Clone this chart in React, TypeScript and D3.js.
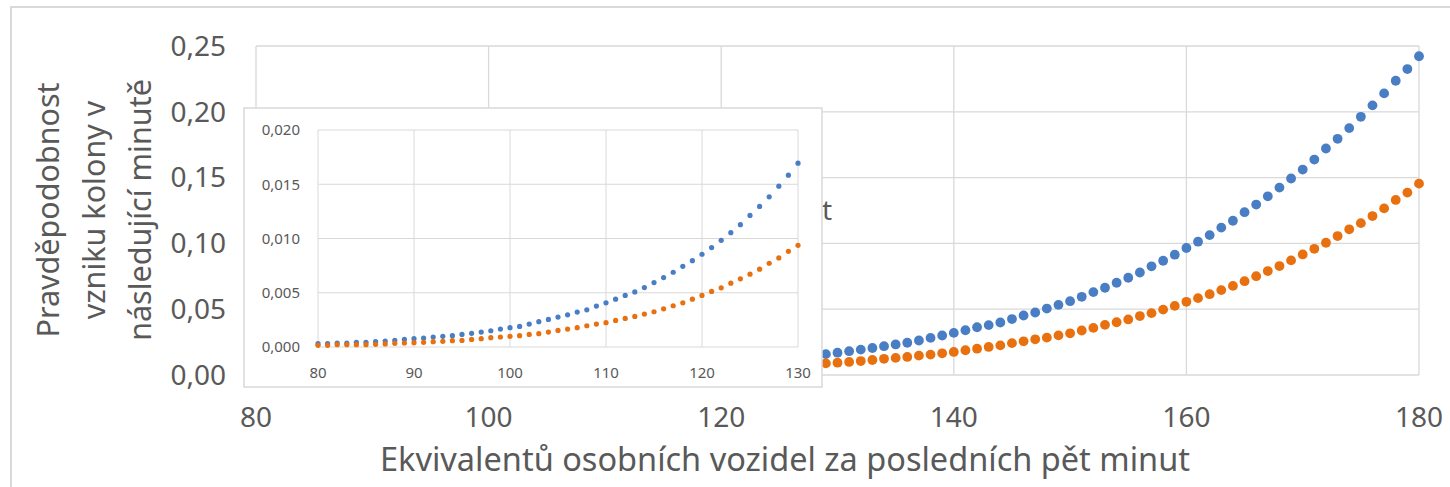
import React from "react";
import * as d3 from "d3";

const xStart = 80;
const blueValues = [
  0.00031, 0.00031, 0.00037, 0.00037, 0.00043, 0.00043, 0.00049, 0.00055, 0.00061, 0.0007,
  0.00077, 0.00083, 0.00092, 0.00098, 0.00104, 0.00116, 0.00126, 0.00138, 0.0015, 0.00165,
  0.00178, 0.0019, 0.00211, 0.00233, 0.00254, 0.00276, 0.00297, 0.00322, 0.00343, 0.00377,
  0.00407, 0.00441, 0.00475, 0.00508, 0.00548, 0.00594, 0.0064, 0.00689, 0.00744, 0.00796,
  0.00855, 0.00916, 0.00983, 0.01054, 0.01127, 0.01213, 0.01296, 0.01384, 0.01482, 0.01584,
  0.01694, 0.0181, 0.0193, 0.0205, 0.0219, 0.0232, 0.0245, 0.0262, 0.0282, 0.03,
  0.032, 0.034, 0.0363, 0.0379, 0.0399, 0.0425, 0.0452, 0.0475, 0.0505, 0.0533,
  0.0561, 0.0594, 0.063, 0.0663, 0.0701, 0.0739, 0.0779, 0.0826, 0.0868, 0.0914,
  0.0965, 0.1013, 0.1063, 0.112, 0.1172, 0.1237, 0.1295, 0.1358, 0.1424, 0.1493,
  0.1561, 0.1637, 0.1721, 0.1795, 0.1876, 0.1962, 0.2049, 0.214, 0.2236, 0.2325,
  0.2422,
];
const orangeValues = [
  0.00015, 0.00015, 0.00021, 0.00021, 0.00021, 0.00021, 0.00025, 0.00028, 0.00034, 0.00037,
  0.0004, 0.00043, 0.00049, 0.00052, 0.00058, 0.00061, 0.0007, 0.00077, 0.00086, 0.00092,
  0.00098, 0.00104, 0.00116, 0.00123, 0.00138, 0.00153, 0.00165, 0.00178, 0.00196, 0.00211,
  0.00224, 0.00245, 0.00263, 0.00282, 0.00303, 0.00325, 0.00352, 0.0038, 0.00407, 0.00441,
  0.00475, 0.00512, 0.00545, 0.00588, 0.00628, 0.00671, 0.00717, 0.00772, 0.00821, 0.00882,
  0.00937, 0.0099, 0.0106, 0.0114, 0.0123, 0.013, 0.0137, 0.0147, 0.0155, 0.0165,
  0.0175, 0.0188, 0.02, 0.0213, 0.0225, 0.0242, 0.0256, 0.0271, 0.0284, 0.0301,
  0.0317, 0.0338, 0.0358, 0.0381, 0.0401, 0.0422, 0.0448, 0.047, 0.0497, 0.0525,
  0.0556, 0.0584, 0.0614, 0.0645, 0.0677, 0.0713, 0.0751, 0.079, 0.0828, 0.0871,
  0.0916, 0.0959, 0.1005, 0.1056, 0.1107, 0.1154, 0.1208, 0.1266, 0.133, 0.1386,
  0.1454,
];
const mainXTicks = [80, 100, 120, 140, 160, 180];
const mainYTicks = [0, 0.05, 0.1, 0.15, 0.2, 0.25];
const insetXTicks = [80, 90, 100, 110, 120, 130];
const insetYTicks = [0, 0.005, 0.01, 0.015, 0.02];
const insetXMax = 130;
const yTitleLines = ["Pravděpodobnost", "vzniku kolony v", "následující minutě"];
const xTitle = "Ekvivalentů osobních vozidel za posledních pět minut";

const BLUE = "#4a7ec4";
const ORANGE = "#e8700f";
const GRID = "#d9d9d9";
const TEXT = "#595959";
const FONT = "'Noto Sans', 'Open Sans', sans-serif";

type Pt = { x: number; b: number; o: number };
const data: Pt[] = blueValues.map((b, i) => ({ x: xStart + i, b, o: orangeValues[i] }));
const insetData = data.filter((d) => d.x <= insetXMax);

const fmt = (d: number, digits: number) => d.toFixed(digits).replace(".", ",");

export default function App() {
  const W = 1450;
  const H = 487;
  const mx = d3.scaleLinear().domain([80, 180]).range([256, 1419]);
  const my = d3.scaleLinear().domain([0, 0.25]).range([375, 46]);
  const ix = d3.scaleLinear().domain([80, 130]).range([318, 798]);
  const iy = d3.scaleLinear().domain([0, 0.02]).range([347, 130]);

  return (
    <svg
      width={W}
      height={H}
      style={{ position: "absolute", left: 0, top: 0, display: "block" }}
      fontFamily={FONT}
    >
      <rect x={0} y={0} width={W} height={H} fill="#fff" />
      <rect x={11} y={7} width={W + 20} height={H + 20} fill="#fff" stroke="#d9d9d9" strokeWidth={2} />

      {/* main chart grid */}
      {mainYTicks.map((t) => (
        <line key={"my" + t} x1={mx(80)} x2={mx(180)} y1={my(t)} y2={my(t)} stroke={GRID} strokeWidth={1.3} />
      ))}
      {mainXTicks.map((t) => (
        <line key={"mx" + t} x1={mx(t)} x2={mx(t)} y1={my(0.25)} y2={my(0)} stroke={GRID} strokeWidth={1.3} />
      ))}
      {mainYTicks.map((t) => (
        <text key={"myl" + t} x={226} y={my(t)} dy="0.35em" textAnchor="end" fontSize={28} fill={TEXT}>
          {fmt(t, 2)}
        </text>
      ))}
      {mainXTicks.map((t) => (
        <text key={"mxl" + t} x={mx(t)} y={427} textAnchor="middle" fontSize={28} fill={TEXT}>
          {t}
        </text>
      ))}
      {yTitleLines.map((l, i) => (
        <text
          key={l}
          transform={`translate(${59 + i * 46},210) rotate(-90)`}
          textAnchor="middle"
          fontSize={30.5}
          fill={TEXT}
        >
          {l}
        </text>
      ))}
      <text x={785} y={471} textAnchor="middle" fontSize={32.5} fill={TEXT}>
        {xTitle}
      </text>
      <text x={822} y={220} fontSize={28} fill={TEXT}>
        t
      </text>

      {data.map((d) => (
        <circle key={"mb" + d.x} cx={mx(d.x)} cy={my(d.b)} r={4.9} fill={BLUE} />
      ))}
      {data.map((d) => (
        <circle key={"mo" + d.x} cx={mx(d.x)} cy={my(d.o)} r={4.9} fill={ORANGE} />
      ))}

      {/* inset chart */}
      <rect x={244} y={108} width={578} height={279} fill="#fff" stroke={GRID} strokeWidth={1.5} />
      {insetYTicks.map((t) => (
        <line key={"iy" + t} x1={ix(80)} x2={ix(130)} y1={iy(t)} y2={iy(t)} stroke={GRID} strokeWidth={1} />
      ))}
      {insetXTicks.map((t) => (
        <line key={"ix" + t} x1={ix(t)} x2={ix(t)} y1={iy(0.02)} y2={iy(0)} stroke={GRID} strokeWidth={1} />
      ))}
      {insetYTicks.map((t) => (
        <text key={"iyl" + t} x={300} y={iy(t)} dy="0.35em" textAnchor="end" fontSize={15} fill={TEXT}>
          {fmt(t, 3)}
        </text>
      ))}
      {insetXTicks.map((t) => (
        <text key={"ixl" + t} x={ix(t)} y={378} textAnchor="middle" fontSize={15} fill={TEXT}>
          {t}
        </text>
      ))}
      {insetData.map((d) => (
        <circle key={"ib" + d.x} cx={ix(d.x)} cy={iy(d.b)} r={2.6} fill={BLUE} />
      ))}
      {insetData.map((d) => (
        <circle key={"io" + d.x} cx={ix(d.x)} cy={iy(d.o)} r={2.6} fill={ORANGE} />
      ))}
    </svg>
  );
}
